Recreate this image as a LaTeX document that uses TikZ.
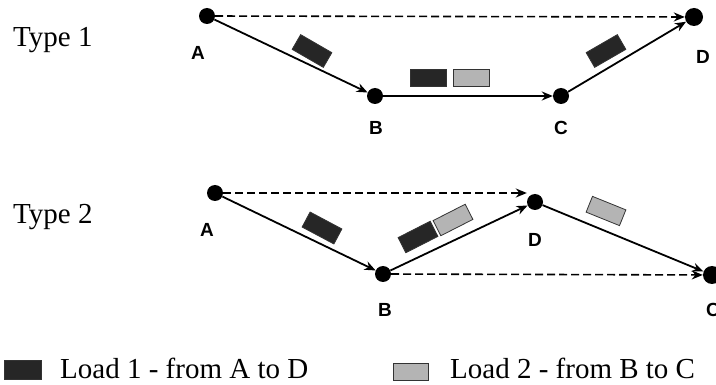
\documentclass[tikz,border=0pt]{standalone}
\usepackage{fontspec}
\setmainfont{Liberation Serif}
\newfontfamily\lblfont{Liberation Sans}
\usetikzlibrary{arrows.meta}
\definecolor{loadone}{HTML}{262626}
\definecolor{loadtwo}{HTML}{B4B4B4}
\definecolor{loadedge}{HTML}{333333}
\begin{document}
\begin{tikzpicture}[x=1pt,y=-1pt,
  dot/.style={circle,fill=black,inner sep=0pt,minimum size=16pt},
  bigdot/.style={dot,minimum size=18pt},
  route/.style={line width=1.8pt,-{Stealth[length=11pt,width=9pt]}},
  direct/.style={line width=1.6pt,dash pattern=on 8pt off 4pt,-{Stealth[length=11pt,width=9pt]}},
  lbl/.style={font=\lblfont\bfseries\fontsize{19}{21}\selectfont,inner sep=0pt},
  title/.style={font=\fontsize{29}{32}\selectfont,anchor=base west,inner sep=0pt},
  loadbox/.style={draw=loadedge,line width=0.8pt,minimum width=36pt,minimum height=17pt,inner sep=0pt},
  loadA/.style={loadbox,fill=loadone},
  loadB/.style={loadbox,fill=loadtwo}]
\useasboundingbox (0,0) rectangle (716,385);

% ---- Type 1 ----
\node[title] (t1) at (13,47) {Type 1};
\node[dot] (A1) at (207,16) {};
\node[dot] (B1) at (375,96) {};
\node[dot] (C1) at (561,96) {};
\node[bigdot] (D1) at (694,17) {};
\node[lbl] (la1) at (198,53) {A};
\node[lbl] (lb1) at (376,128) {B};
\node[lbl] (lc1) at (561,128) {C};
\node[lbl] (ld1) at (703,57) {D};
\draw[direct] (A1) -- (D1);
\draw[route] (A1) -- (B1);
\draw[route] (B1) -- (C1);
\draw[route] (C1) -- (D1);
\node[loadA,rotate=-30] (p1) at (312,51) {};
\node[loadA] (p2) at (428,78) {};
\node[loadB] (p3) at (471,78) {};
\node[loadA,rotate=30] (p4) at (606,51) {};

% ---- Type 2 ----
\node[title] (t2) at (13,224) {Type 2};
\node[dot] (A2) at (215,193) {};
\node[dot] (B2) at (383,274) {};
\node[dot] (D2) at (535,202) {};
\node[bigdot] (C2) at (712,275) {};
\node[lbl] (la2) at (207,230) {A};
\node[lbl] (lb2) at (385,310) {B};
\node[lbl] (ld2) at (535,240) {D};
\node[lbl] (lc2) at (713,310) {C};
\coordinate (dtop) at ([yshift=-8pt]D2.west);
\draw[direct] (A2) -- (A2 -| dtop);
\draw[direct] (B2) -- (C2);
\draw[route] (A2) -- (B2);
\draw[route] (B2) -- (D2);
\draw[route] (D2) -- (C2);
\node[loadA,rotate=-28] (q1) at (322,228) {};
\node[loadA,rotate=27] (q2) at (418,237) {};
\node[loadB,rotate=27] (q3) at (453,220) {};
\node[loadB,rotate=-22] (q4) at (606,211) {};

% ---- Legend ----
\node[loadA,minimum width=37pt,minimum height=19pt] (k1) at (22.5,369.5) {};
\node[title] (k1t) at (60,378) {Load 1 - from A to D};
\node[loadB,minimum width=35pt,minimum height=17pt] (k2) at (410.5,371.5) {};
\node[title] (k2t) at (450,378) {Load 2 - from B to C};
\end{tikzpicture}
\end{document}
